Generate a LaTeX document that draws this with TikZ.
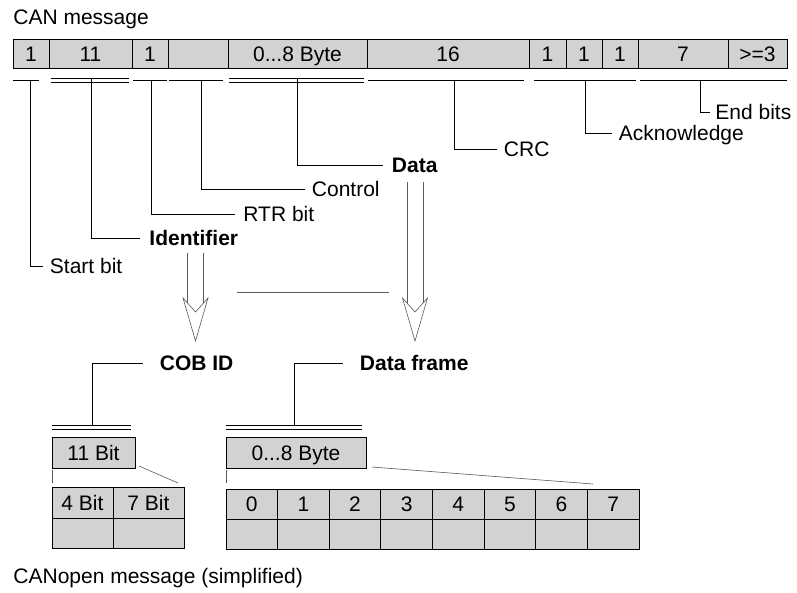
\documentclass[tikz,border=0pt]{standalone}
\usepackage{fontspec}
\setmainfont{Liberation Sans}
\usetikzlibrary{calc}

\tikzset{
  cell/.style={draw,fill=gray!35,line width=0.85pt,minimum height=29pt,inner sep=0pt,text height=15pt,text depth=0pt},
  lbl/.style={anchor=west,inner xsep=6.5pt,inner ysep=0pt,text height=15pt,text depth=0pt},
  thin line/.style={draw=black!65,line width=0.6pt},
  vhead/.pic={\draw[thin line] (-12.5,0) -- (0,43) -- (12.5,0) -- (0,14) -- cycle;}
}

\begin{document}
\begin{tikzpicture}
  [x=1pt,y=-1pt,line width=0.85pt,font=\fontsize{21}{25}\selectfont]
  \useasboundingbox (0,0) rectangle (797,592);

  \node[anchor=base west,inner sep=0pt] (t1) at (13,24) {CAN message};
  \node[anchor=base west,inner sep=0pt] (t2) at (13,583) {CANopen message (simplified)};

  % CAN frame
  \node[cell,minimum width=36pt]  (c1)  at (31,53.5)    {1};
  \node[cell,minimum width=83pt]  (c2)  at (90.5,53.5)  {11};
  \node[cell,minimum width=36pt]  (c3)  at (150,53.5)   {1};
  \node[cell,minimum width=60pt]  (c4)  at (198,53.5)   {};
  \node[cell,minimum width=139pt] (c5)  at (297.5,53.5) {0...8 Byte};
  \node[cell,minimum width=162pt] (c6)  at (448,53.5)   {16};
  \node[cell,minimum width=37pt]  (c7)  at (547.5,53.5) {1};
  \node[cell,minimum width=36pt]  (c8)  at (584,53.5)   {1};
  \node[cell,minimum width=36pt]  (c9)  at (620,53.5)   {1};
  \node[cell,minimum width=90pt]  (c10) at (683,53.5)   {7};
  \node[cell,minimum width=59pt]  (c11) at (757.5,53.5) {>=3};

  % underlines
  \foreach \a/\b in {13/39,133/167,169/223,368/524,534/636,640/787}
    \draw (\a,80) -- (\b,80);
  \foreach \a/\b in {51/129,229/364}
    \draw (\a,78) -- (\b,78) (\a,82) -- (\b,82);
  \coordinate (u1) at (30,80);
  \coordinate (u2) at (91,78);
  \coordinate (u3) at (151,80);
  \coordinate (u4) at (201,80);
  \coordinate (u5) at (297,78);
  \coordinate (u6) at (454,80);
  \coordinate (u7) at (585,80);
  \coordinate (u8) at (700,80);

  \node[lbl] (sb)   at (43,266)  {Start bit};
  \node[lbl,inner xsep=9pt] (id) at (140,238) {\bfseries Identifier};
  \node[lbl,inner xsep=8pt] (rtr) at (235,214) {RTR bit};
  \node[lbl] (ctl)  at (305,189) {Control};
  \node[lbl,inner xsep=8.5pt] (dat) at (383,165) {\bfseries Data};
  \node[lbl] (crc)  at (497,149) {CRC};
  \node[lbl] (ack)  at (612,133) {Acknowledge};
  \node[lbl,inner xsep=5pt] (eb) at (710,112) {End bits};

  \foreach \from/\to in {u1/sb,u2/id,u3/rtr,u4/ctl,u5/dat,u6/crc,u7/ack,u8/eb}
    \draw (\from) |- (\to.west);

  % hollow arrows
  \coordinate (ia) at (195.5,253);
  \coordinate (ib) at (195.5,298);
  \coordinate (da) at (415,182);
  \coordinate (db) at (415,298);
  \foreach \top/\hd in {ia/ib,da/db} {
    \draw[thin line] ([xshift=-8pt]\top) -- ([xshift=-8pt,yshift=-5pt]\hd);
    \draw[thin line] ([xshift=8pt]\top) -- ([xshift=8pt,yshift=-5pt]\hd);
    \pic at (\hd) {vhead};
  }
  \draw[thin line] (237,292) -- (389,292);

  % CANopen
  \node[lbl] (cob) at (153,363) {\bfseries COB ID};
  \node[lbl] (dfr) at (353,363) {\bfseries Data frame};
  \coordinate (v1) at (92,425);
  \coordinate (v2) at (294,425);
  \draw (52,425) -- (131,425) (52,429) -- (131,429);
  \draw (226,425) -- (362,425) (226,429) -- (362,429);
  \foreach \from/\to in {v1/cob,v2/dfr}
    \draw (\from) |- ([xshift=-10pt]\to.west);

  \node[cell,minimum width=83pt,minimum height=31pt]  (b11) at (93.5,452.5) {11 Bit};
  \node[cell,minimum width=140pt,minimum height=31pt] (b08) at (296,452.5)  {0...8 Byte};
  \draw[thin line] (52,470) -- (52,483);
  \draw[thin line] (226,470) -- (226,483);
  \draw[thin line] (139,466) -- (178,483);
  \draw[thin line] (372,467) -- (593,484);

  \node[cell,minimum width=61pt,minimum height=31pt] (b4)  at (82.5,502.5)  {4 Bit};
  \node[cell,minimum width=71pt,minimum height=31pt] (b7)  at (148.5,502.5) {7 Bit};
  \node[cell,minimum width=61pt,minimum height=30pt] (b4l) at (82.5,533)    {};
  \node[cell,minimum width=71pt,minimum height=30pt] (b7l) at (148.5,533)   {};

  \foreach \i in {0,...,7} {
    \node[cell,minimum width=51.6pt,minimum height=30pt] (d\i)  at ({226+51.625*(\i+0.5)},504) {\i};
    \node[cell,minimum width=51.6pt,minimum height=30pt] (e\i) at ({226+51.625*(\i+0.5)},534) {};
  }
\end{tikzpicture}
\end{document}
